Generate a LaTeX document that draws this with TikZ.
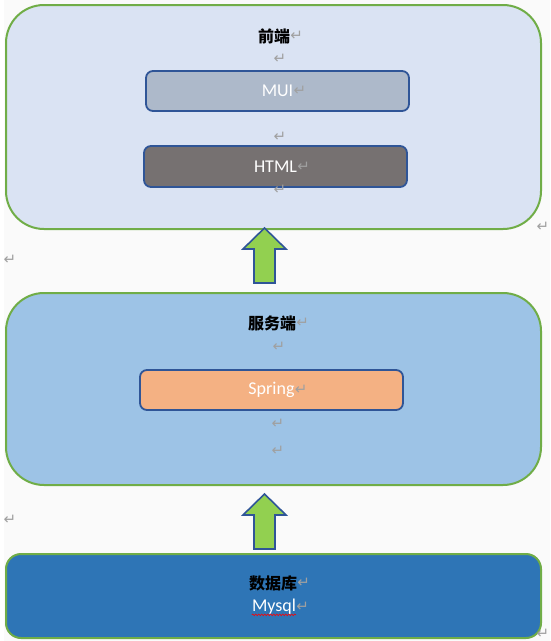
\documentclass[tikz,border=0pt]{standalone}
\usepackage{fontspec}
\setmainfont{Carlito}
\newfontfamily\cjk{Noto Sans CJK SC}
\newfontfamily\marksfont{DejaVu Sans}
\usetikzlibrary{positioning,decorations.pathmorphing}
\definecolor{pagebg}{HTML}{FAFAFA}
\definecolor{layerline}{HTML}{70AD47}
\definecolor{partline}{HTML}{2F5597}
\definecolor{frontfill}{HTML}{DAE3F3}
\definecolor{serverfill}{HTML}{9DC3E6}
\definecolor{dbfill}{HTML}{2E75B6}
\definecolor{muifill}{HTML}{ADB9CA}
\definecolor{htmlfill}{HTML}{767171}
\definecolor{springfill}{HTML}{F4B183}
\definecolor{arrowfill}{HTML}{92D050}
\definecolor{markgray}{HTML}{A0A0A0}
\begin{document}
\begin{tikzpicture}[x=1pt, y=-1pt,
  layer/.style={draw=layerline, line width=2pt, rounded corners=38pt, minimum width=535pt},
  part/.style={draw=partline, line width=1.8pt, rounded corners=7pt, minimum width=263pt, minimum height=40pt},
  title/.style={inner sep=0pt, font=\cjk\bfseries\fontsize{16}{16}\selectfont},
  word/.style={inner sep=0pt, text=white, font=\fontsize{18}{18}\selectfont},
  pmark/.style={inner sep=0pt, text=markgray, font=\marksfont\fontsize{15}{15}\selectfont},
  uparrow/.style={fill=arrowfill, draw=partline, line width=1.6pt, line join=miter}]
\fill[pagebg](0,0) rectangle (550,641);
\fill[white](0,0) rectangle (4,641);
\useasboundingbox (0,0) rectangle (550,641);
% front end
\node[layer, fill=frontfill, minimum height=224pt] (front) at (273.5,117) {};
\node[title] (fronttitle) at (274,36) {前端};
\node[part, fill=muifill] (muibox) at (277.5,91) {};
\node[word] (mui) at (muibox) {MUI};
\node[part, fill=htmlfill, minimum height=41pt] (htmlbox) at (275.5,166.5) {};
\node[word] (html) at (htmlbox) {HTML};
% server
\node[layer, fill=serverfill, minimum height=192pt] (server) at (273.5,389) {};
\node[title] (servertitle) at (272,323) {服务端};
\node[part, fill=springfill] (springbox) at (271.5,390) {};
\node[word] (spring) at (springbox) {Spring};
% database
\node[layer, fill=dbfill, minimum height=84pt, rounded corners=15pt] (db) at (273.5,596) {};
\node[title] (dbtitle) at (273,583) {数据库};
\node[word] (mysql) at (274,607) {Mysql};
\draw[red, line width=.6pt, decorate, decoration={snake, amplitude=.8pt, segment length=3pt}]
  ([yshift=-3pt]mysql.base west) -- ([yshift=-3pt]mysql.base east);
% arrows
\foreach \t in {228,494}
{
    \draw[uparrow](264.5,\t) -- (286,\t+21) -- (275,\t+21) -- (275,\t+55)
      -- (254,\t+55) -- (254,\t+21) -- (243,\t+21) -- cycle;
}
% paragraph marks
\foreach \n in {fronttitle,mui,html,servertitle,spring,dbtitle,mysql}
{
    \node[pmark, right=0pt of \n] (\n mark) {↵};
}
\foreach \x/\y [count=\i] in {280/59, 280/137, 280/190, 10/260, 543/227, 279/347, 278/424, 278/451, 10/520, 543/634}
{
    \node[pmark] (mark\i) at (\x,\y) {↵};
}
\end{tikzpicture}
\end{document}
